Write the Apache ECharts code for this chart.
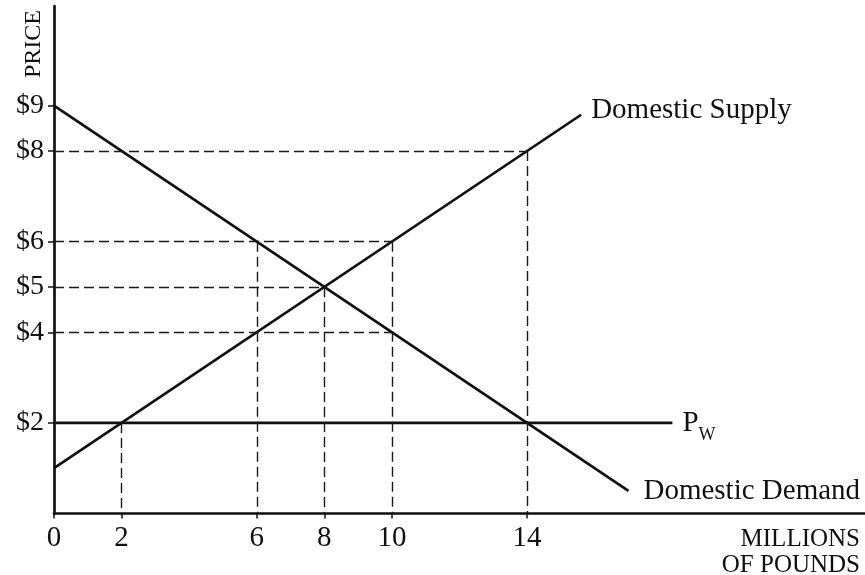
<!DOCTYPE html>
<html>
<head>
<meta charset="utf-8">
<script src="https://cdn.jsdelivr.net/npm/echarts@6/dist/echarts.min.js"></script>
<style>
html, body { margin: 0; padding: 0; background: #fff; }
#chart { width: 865px; height: 575px; }
</style>
</head>
<body>
<div id="chart"></div>
<script>
// quantity (millions of pounds) / price ($)
var supplyQ = [0, 15.6];
var supplyP = [1, 8.8];
var demandQ = [0, 17];
var demandP = [9, 0.5];
var worldQ = [0, 18.3];
var worldP = [2, 2];
var qTicks = [0, 2, 6, 8, 10, 14];
var pTicks = [2, 4, 5, 6, 8, 9];
// dashed guides: [q1, p1, q2, p2]
var guides = [
  [0, 8, 14, 8], [0, 6, 10, 6], [0, 5, 8, 5], [0, 4, 10, 4],
  [2, 2, 2, 0], [6, 6, 6, 0], [8, 5, 8, 0], [10, 6, 10, 0], [14, 8, 14, 0]
];

var FONT = "'Liberation Serif', 'DejaVu Serif', serif";
var INK = "#111";

function pairs(xs, ys) {
  return xs.map(function (x, i) { return [x, ys[i]]; });
}

var myChart = echarts.init(document.getElementById("chart"));

var option = {
  animation: false,
  backgroundColor: "#fff",
  textStyle: { fontFamily: FONT, color: INK },
  grid: { left: 54, right: 0, top: 6, bottom: 61.5 },
  xAxis: {
    type: "value",
    min: 0,
    max: 24,
    splitLine: { show: false },
    axisLine: { show: true, lineStyle: { color: INK, width: 2.7 } },
    axisTick: { show: true, length: 5, customValues: qTicks, lineStyle: { color: INK, width: 1.5 } },
    axisLabel: { customValues: qTicks, margin: 10, fontSize: 29, fontFamily: FONT, color: INK }
  },
  yAxis: {
    type: "value",
    min: 0,
    max: 11.2,
    splitLine: { show: false },
    axisLine: { show: true, lineStyle: { color: INK, width: 2.7 } },
    axisTick: { show: true, length: 6, customValues: pTicks, lineStyle: { color: INK, width: 1.5 } },
    axisLabel: {
      customValues: pTicks, margin: 10, fontSize: 28, fontFamily: FONT, color: INK,
      formatter: function (v) { return "$" + v; }
    }
  },
  graphic: [
    {
      type: "text", left: 22, top: 10, rotation: Math.PI / 2,
      style: { text: "PRICE", font: "24px " + FONT, fill: INK }
    },
    {
      type: "text", right: 5, top: 527,
      style: { text: "MILLIONS", font: "25px " + FONT, fill: INK }
    },
    {
      type: "text", right: 5, top: 553,
      style: { text: "OF POUNDS", font: "25px " + FONT, fill: INK }
    }
  ],
  series: [
    {
      name: "Domestic Supply",
      type: "line",
      data: pairs(supplyQ, supplyP),
      showSymbol: false,
      lineStyle: { color: INK, width: 2.7 },
      endLabel: {
        show: true, distance: 10, offset: [0, -4],
        formatter: "Domestic Supply", fontSize: 29, fontFamily: FONT, color: INK
      },
      z: 3
    },
    {
      name: "Domestic Demand",
      type: "line",
      data: pairs(demandQ, demandP),
      showSymbol: false,
      lineStyle: { color: INK, width: 2.7 },
      endLabel: {
        show: true, distance: 15, offset: [0, 1],
        formatter: "Domestic Demand", fontSize: 29, fontFamily: FONT, color: INK
      },
      z: 3
    },
    {
      name: "Pw",
      type: "line",
      data: pairs(worldQ, worldP),
      showSymbol: false,
      lineStyle: { color: INK, width: 2.7 },
      endLabel: {
        show: true, distance: 10, offset: [0, 4],
        formatter: "{p|P}{w|W}",
        rich: {
          p: { fontSize: 29, fontFamily: FONT, color: INK, padding: [0, 0, 6, 0] },
          w: { fontSize: 18, fontFamily: FONT, color: INK, verticalAlign: "bottom" }
        }
      },
      markLine: {
        silent: true,
        symbol: "none",
        label: { show: false },
        lineStyle: { color: "#1a1a1a", width: 1.4, type: [10, 5] },
        data: guides.map(function (g) {
          return [{ coord: [g[0], g[1]] }, { coord: [g[2], g[3]] }];
        })
      },
      z: 3
    }
  ]
};

myChart.setOption(option);
</script>
</body>
</html>
